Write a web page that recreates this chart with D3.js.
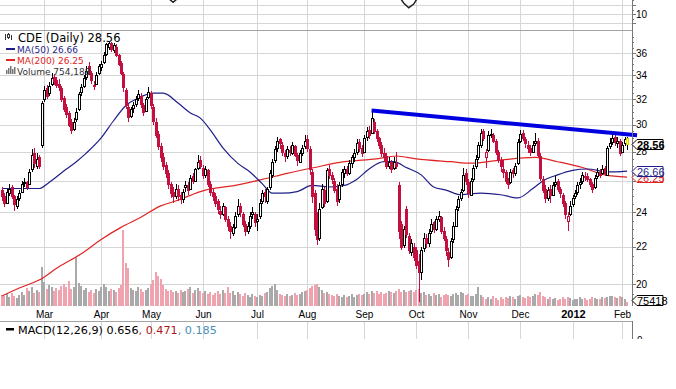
<!DOCTYPE html>
<html>
<head>
<meta charset="utf-8">
<script src="https://cdn.jsdelivr.net/npm/d3@7"></script>
<style>
  body { margin: 0; background: #fff; }
  svg { display: block; }
  text { font-family: "Liberation Sans", Arial, sans-serif; font-size: 10px; }
  .legend text { font-family: "DejaVu Sans", Verdana, sans-serif; }
</style>
</head>
<body>
<svg width="676" height="389"></svg>
<script>
const startDay = '2011-02-03';
const endDay = '2012-02-03';
const holidays = ['2011-02-21', '2011-04-22', '2011-05-30', '2011-07-04', '2011-09-05',
  '2011-11-24', '2011-12-26', '2012-01-02', '2012-01-16'];
const monthLabels = ['Mar', 'Apr', 'May', 'Jun', 'Jul', 'Aug', 'Sep', 'Oct', 'Nov', 'Dec', '2012', 'Feb'];
const priceTicks = [20, 22, 24, 26, 28, 30, 32, 34, 36];
const upperTicks = [10, 30];
const upperGrid = [0, 10, 20];

// open, high, low, close for each trading day
const candles = [
  // Feb 2011
  [25.4,25.6,24.7,25.0],[25.0,25.2,24.3,24.6],[24.6,25.5,24.5,25.3],[25.2,25.8,25.0,25.5],[25.6,25.7,24.8,25.0],
  [25.0,25.1,24.1,24.5],[24.4,25.0,24.2,24.8],[24.9,25.4,24.7,25.2],[25.3,26.0,25.2,25.8],[25.9,26.2,25.6,25.9],
  [25.9,26.0,25.4,25.6],[25.8,26.8,25.7,26.6],[26.8,28.2,26.6,27.8],[27.9,28.3,26.9,27.2],[27.0,27.9,26.8,27.5],
  [27.6,27.8,26.8,27.0],[28.5,31.9,28.3,31.7],
  // Mar
  [32.0,33.1,31.8,32.8],[32.9,33.2,32.0,32.3],[32.5,33.4,32.3,33.1],[33.3,34.2,33.1,33.8],[33.9,34.1,33.2,33.5],
  [33.6,33.9,32.9,33.2],[33.3,33.7,32.7,33.0],[32.9,33.1,31.8,32.0],[32.1,32.3,31.0,31.2],[31.4,31.6,30.5,30.8],
  [30.9,31.1,29.8,30.0],[30.2,30.4,29.3,29.6],[29.7,30.5,29.5,30.2],[30.4,31.3,30.2,31.0],[31.2,32.6,31.1,32.4],
  [32.6,33.3,32.3,33.0],[33.1,34.0,32.9,33.8],[33.9,34.8,33.6,34.4],[34.8,35.2,34.0,34.2],[34.2,34.4,33.3,33.6],
  [33.1,33.5,32.8,33.2],[33.3,34.3,33.2,34.0],[34.2,35.0,34.0,34.8],
  // Apr
  [34.7,35.3,34.4,35.0],[35.2,36.1,35.0,35.8],[35.9,36.9,35.7,36.8],[36.6,37.0,36.3,36.9],[36.9,37.0,36.1,36.4],
  [36.3,36.9,36.0,36.7],[36.6,36.8,35.6,35.8],[35.8,35.9,34.8,35.0],[35.1,35.3,34.0,34.2],[34.1,34.3,32.6,33.0],
  [32.8,32.9,31.2,31.5],[31.4,31.6,30.2,30.6],[30.7,31.4,30.5,31.2],[31.3,31.8,30.9,31.5],[31.6,32.3,31.4,32.0],
  [32.1,32.8,31.9,32.4],[32.3,32.5,31.3,31.6],[31.5,31.7,30.7,31.0],[31.1,32.2,31.0,32.0],[32.2,33.0,32.0,32.6],
  // May
  [32.5,32.7,31.2,31.5],[31.4,31.6,30.0,30.3],[30.2,30.5,29.0,29.2],[29.3,29.5,28.1,28.4],[28.4,28.6,27.3,27.6],
  [27.6,27.9,26.7,27.0],[27.1,27.3,26.2,26.5],[26.5,26.7,25.5,25.8],[25.8,25.9,24.9,25.2],[25.3,25.6,24.6,25.0],
  [25.0,25.8,24.8,25.5],[25.5,25.7,24.7,25.0],[25.1,25.3,24.5,24.8],[24.8,25.5,24.6,25.3],[25.6,26.0,25.3,25.7],
  [25.7,25.9,25.1,25.4],[25.5,26.4,25.4,26.2],[26.3,26.5,25.8,26.0],[26.0,26.9,25.9,26.8],[26.9,27.8,26.7,27.3],
  [27.4,27.7,26.8,27.0],
  // Jun
  [26.9,27.1,26.1,26.4],[26.4,27.0,26.2,26.8],[26.7,26.8,25.6,25.8],[25.8,26.0,25.0,25.3],[25.3,25.5,24.7,25.0],
  [25.0,25.2,24.3,24.6],[24.7,24.8,23.9,24.2],[24.1,24.4,23.6,23.9],[23.9,24.6,23.8,24.4],[24.3,24.4,23.4,23.6],
  [23.6,23.8,22.9,23.2],[23.2,23.4,22.4,22.9],[22.8,23.3,22.6,23.1],[23.1,24.0,23.0,23.8],[23.9,24.8,23.7,24.4],
  [24.4,24.6,23.7,24.0],[23.9,24.0,23.1,23.3],[23.3,23.5,22.6,22.9],[22.9,23.4,22.7,23.2],[23.2,24.0,23.0,23.8],
  [23.9,24.3,23.6,24.0],[23.9,24.0,23.1,23.4],
  // Jul
  [23.5,23.9,22.9,23.6],[23.8,24.8,23.6,24.6],[24.7,25.4,24.5,25.2],[25.3,25.5,24.6,25.0],[24.7,25.6,24.5,25.5],
  [25.6,26.7,25.4,26.5],[26.4,27.5,26.2,27.3],[27.4,28.4,27.2,28.2],[28.3,29.1,28.0,28.8],[28.9,29.0,28.2,28.6],
  [28.5,28.7,27.7,28.0],[27.9,28.1,27.3,27.7],[27.7,28.4,27.5,28.2],[28.1,28.4,27.7,28.0],[27.9,28.7,27.8,28.5],
  [28.4,28.5,27.6,27.8],[27.8,27.9,27.0,27.4],[27.3,28.1,27.2,27.9],[27.9,28.5,27.7,28.3],[28.4,29.2,28.2,28.8],
  // Aug
  [28.9,29.2,28.0,28.3],[28.2,28.4,26.4,26.8],[26.6,26.8,24.6,25.0],[25.2,25.4,22.6,23.0],[23.6,24.0,22.1,22.4],
  [22.5,24.6,22.3,24.2],[24.3,25.8,24.2,25.5],[25.4,25.6,24.3,24.6],[24.7,26.9,24.6,26.7],[26.8,27.1,26.1,26.4],
  [26.4,26.6,25.8,26.1],[26.0,26.2,25.2,25.4],[25.5,25.8,24.4,24.7],[24.8,25.9,24.6,25.7],[25.8,26.8,25.6,26.6],
  [26.5,27.0,26.2,26.8],[26.8,27.0,26.3,26.5],[26.5,27.4,26.4,27.2],[27.2,27.8,26.9,27.6],[27.6,28.2,27.3,27.9],
  [28.0,28.9,27.8,28.6],[28.7,28.9,28.0,28.3],[28.3,28.5,27.6,27.9],
  // Sep
  [28.0,29.2,27.9,29.0],[29.1,29.8,28.8,29.5],[29.6,29.9,28.9,29.2],[29.4,31.1,29.3,30.5],[30.2,30.4,29.3,29.5],
  [29.5,29.7,28.7,29.0],[29.0,29.1,28.2,28.5],[28.5,28.7,27.6,27.9],[27.9,28.3,27.3,27.6],[27.7,27.9,26.8,27.0],
  [27.0,27.6,26.8,27.3],[27.3,27.4,26.5,26.8],[26.9,27.6,26.7,27.3],[27.2,28.0,26.8,27.0],[25.7,25.9,22.4,22.9],
  [23.3,23.5,21.8,22.0],[22.1,23.2,21.9,23.0],[24.2,24.4,22.5,22.7],[22.6,22.8,21.6,21.8],[21.7,22.4,21.5,22.2],
  [22.0,22.2,21.2,21.4],
  // Oct
  [21.8,22.0,20.8,21.0],[21.2,21.6,19.1,20.6],[20.6,22.0,20.2,21.8],[21.9,22.8,21.7,22.5],[22.5,22.7,21.9,22.2],
  [22.2,23.0,22.0,22.8],[22.9,23.6,22.7,23.3],[23.4,23.5,22.8,23.0],[23.0,23.8,22.9,23.6],[23.6,24.1,23.4,23.8],
  [23.7,23.8,22.7,22.9],[22.9,23.1,22.3,22.5],[22.4,22.6,21.5,21.8],[21.7,21.9,20.9,21.3],[21.4,22.5,21.3,22.3],
  [22.4,23.4,22.2,23.2],[23.2,24.4,23.1,24.2],[24.3,25.0,24.1,24.8],[24.9,25.5,24.7,25.3],[25.4,26.9,25.3,26.4],
  [26.5,26.8,25.7,26.0],
  // Nov
  [25.9,26.1,24.9,25.2],[25.1,26.2,25.0,26.0],[26.1,27.1,25.9,26.9],[27.0,27.8,26.8,27.5],[27.6,28.7,27.4,28.5],
  [28.5,29.7,28.3,29.4],[29.5,29.7,28.8,29.0],[27.6,28.2,26.9,28.0],[28.1,29.5,28.0,29.2],[29.3,29.7,29.0,29.3],
  [29.2,29.4,28.6,28.8],[28.8,28.9,27.8,28.0],[28.0,28.1,27.2,27.4],[27.4,27.6,26.6,27.0],[26.8,27.4,26.2,26.6],
  [26.6,26.7,25.8,26.0],[26.0,26.2,25.5,25.8],[25.9,26.8,25.8,26.6],[26.7,26.9,26.2,26.5],[26.5,27.2,26.3,27.0],
  [27.2,28.9,27.1,28.7],
  // Dec
  [28.8,29.6,28.6,29.3],[29.4,29.6,28.8,29.0],[28.9,29.1,28.3,28.6],[28.5,28.8,27.9,28.3],[28.3,28.5,27.7,28.0],
  [28.0,28.8,27.9,28.5],[28.6,29.4,28.4,28.8],[28.8,29.0,27.6,27.8],[27.7,27.9,26.0,26.2],[26.1,26.3,25.2,25.4],
  [25.5,25.7,24.6,24.9],[24.9,25.6,24.7,25.4],[25.5,25.7,24.6,25.1],[25.1,25.9,25.0,25.7],[25.8,26.3,25.6,25.9],
  [26.0,26.1,25.3,25.5],[25.5,25.6,24.9,25.2],[25.1,25.2,24.3,24.6],[24.6,24.7,23.6,23.9],[23.5,24.0,22.9,23.8],
  [23.9,24.7,23.8,24.4],
  // Jan 2012
  [24.5,25.1,24.3,24.9],[25.0,25.4,24.8,25.2],[25.3,25.9,25.1,25.7],[25.8,26.2,25.5,25.9],[26.0,26.6,25.8,26.4],
  [26.3,26.6,26.0,26.3],[26.3,26.5,25.9,26.1],[26.1,26.2,25.6,25.8],[25.8,25.9,25.2,25.5],[25.6,26.4,25.5,26.2],
  [26.3,26.9,26.1,26.6],[26.6,26.8,26.2,26.4],[26.5,27.1,26.4,26.8],[26.9,27.0,26.3,26.5],[26.4,28.4,26.3,28.3],
  [28.4,29.0,28.2,28.6],[28.7,29.3,28.5,29.0],[29.1,29.3,28.4,28.7],[28.6,29.1,28.3,28.8],[28.8,28.9,27.7,27.9],
  // Feb 2012
  [28.0,28.7,27.9,28.5],[28.6,29.1,28.4,28.9],[29.0,29.1,28.1,28.56]
];

// daily volume, millions of shares
const volumes = [
  2.0,1.8,2.2,1.6,2.4,1.9,1.5,2.1,2.6,2.0,3.4,2.8,3.6,2.5,3.0,2.6,7.3,
  4.5,3.2,4.0,3.6,2.8,3.4,3.0,3.8,4.2,3.5,4.6,3.2,3.6,9.2,4.4,3.8,3.0,3.4,2.6,3.0,2.4,3.2,2.8,
  3.5,4.2,3.6,2.8,3.2,3.0,2.6,3.4,4.0,14.3,8.0,7.2,3.4,3.0,2.8,3.6,3.2,2.6,3.0,3.4,
  4.2,4.8,6.4,5.6,5.0,4.0,3.2,2.8,3.0,2.6,2.9,2.4,3.0,2.6,2.8,3.2,3.6,2.5,3.0,3.4,2.8,
  2.4,2.8,2.2,2.6,2.0,2.5,2.8,2.2,3.0,2.5,3.6,2.4,2.8,2.0,2.6,2.2,1.8,2.4,2.0,1.7,2.2,1.9,
  1.6,2.0,1.8,2.4,2.6,3.4,3.8,4.1,3.0,2.2,2.0,1.9,2.3,1.8,2.1,2.4,2.0,2.2,2.6,2.8,
  3.0,3.4,3.8,4.0,4.2,3.6,3.0,2.4,2.6,2.2,2.0,1.8,2.2,1.9,1.7,2.0,1.6,1.9,2.2,1.7,2.0,2.3,2.0,
  2.2,2.6,2.2,2.9,2.4,2.8,2.2,2.6,2.3,2.5,2.8,2.6,2.4,2.9,3.2,2.7,3.0,2.6,2.8,3.0,2.7,
  3.0,3.1,2.4,2.6,2.0,2.2,1.8,2.4,2.0,2.2,1.7,2.0,2.3,2.1,1.8,2.2,2.5,2.0,2.6,2.4,2.1,
  2.3,1.8,1.9,2.2,3.6,2.0,1.7,1.3,1.6,1.4,1.8,1.5,1.2,1.6,1.4,1.7,1.5,1.9,1.6,1.4,1.8,
  2.0,1.6,1.5,1.9,1.7,1.8,2.2,2.0,2.6,1.9,1.6,1.4,1.7,1.3,1.5,1.2,1.4,1.6,1.3,1.7,1.5,
  1.2,1.4,1.3,1.6,1.4,1.5,1.2,1.3,1.6,1.5,1.4,1.3,1.7,1.5,1.6,1.9,1.8,1.7,1.5,1.8,
  1.6,1.4,0.754
];

// moving averages as [trading day, value]
const ma50 = [[0,25.5],[15,25.5],[19,25.9],[26,26.8],[30,27.3],[34,27.9],[40,29.0],[45,30.3],[50,31.5],
  [55,32.1],[61,32.5],[65,32.5],[71,31.7],[76,30.9],[80,30.5],[84,29.6],[89,28.3],[95,27.2],[100,26.6],
  [105,25.8],[109,25.2],[113,25.2],[119,25.3],[125,25.7],[132,25.6],[138,25.7],[143,26.1],[148,26.8],
  [154,27.3],[158,27.3],[163,26.9],[169,26.4],[174,25.6],[179,25.4],[185,25.1],[193,25.2],[201,25.1],
  [208,24.9],[214,25.5],[218,26.0],[224,26.4],[230,26.7],[236,26.8],[244,26.6],[252,26.66]];
const ma200 = [[0,19.4],[7,19.8],[15,20.2],[23,20.9],[32,21.6],[40,22.4],[48,23.1],[56,23.7],[64,24.4],
  [70,24.7],[82,25.4],[94,25.7],[105,26.1],[115,26.5],[126,26.9],[138,27.3],[151,27.5],[159,27.7],
  [167,27.5],[181,27.3],[189,27.2],[200,27.4],[215,27.6],[224,27.3],[234,26.9],[243,26.4],[252,26.25]];

const trendLine = [[149, 31.1], [256, 29.2]];
// pieces of the indicator line from the panel above
const upperLine = [[[66, 30], [69, 23], [72, 30]], [[160, 30], [162, 22], [164, 17], [166, 21], [168, 30]]];

const lastClose = 28.56;
const lastMa50 = 26.66;
const lastMa200 = 26.25;
const lastVolume = 754188;
const macdValues = [0.656, 0.471, 0.185];

const upColor = '#000000';
const downColor = '#c4103f';
const ma50Color = '#1f1f8a';
const ma200Color = '#e02424';
const gridColor = '#d6d6d6';
const axisRight = 632;

const svg = d3.select('svg');

const parseDay = d3.timeParse('%Y-%m-%d');
const formatDay = d3.timeFormat('%Y-%m-%d');
const days = d3.timeDay.range(parseDay(startDay), d3.timeDay.offset(parseDay(endDay), 1))
  .filter(d => d.getDay() !== 0 && d.getDay() !== 6 && !holidays.includes(formatDay(d)));

const x = d3.scaleLinear().domain([0, days.length - 1]).range([1.9, 627.1]);
const y = d3.scaleLog().domain([20, 36]).range([284, 53]);
const yVol = d3.scaleLinear().domain([0, 15]).range([306, 226]);
const yUpper = d3.scaleLinear().domain([0, 30]).range([23, -4]);
const px = i => Math.round(x(i));

const monthStarts = days.map((d, i) => i)
  .filter(i => i > 0 && days[i].getMonth() !== days[i - 1].getMonth());

svg.append('rect').attr('width', 676).attr('height', 389).attr('fill', '#fff');

// clip for price panel
svg.append('clipPath').attr('id', 'price-clip')
  .append('rect').attr('x', 0).attr('y', 31).attr('width', axisRight).attr('height', 275);

// grid
const grid = svg.append('g').attr('stroke', gridColor).attr('shape-rendering', 'crispEdges');
[[0, 30], [31, 306], [322, 339]].forEach(([top, bottom]) => {
  grid.append('g').selectAll('line')
    .data(monthStarts)
    .enter()
    .append('line')
    .attr('x1', i => px(i) + 0.5)
    .attr('x2', i => px(i) + 0.5)
    .attr('y1', top)
    .attr('y2', bottom);
});
grid.append('g').selectAll('line')
  .data(priceTicks)
  .enter()
  .append('line')
  .attr('x1', 0)
  .attr('x2', axisRight)
  .attr('y1', d => Math.round(y(d)) + 0.5)
  .attr('y2', d => Math.round(y(d)) + 0.5);
grid.append('g').selectAll('line')
  .data(upperGrid)
  .enter()
  .append('line')
  .attr('x1', 0)
  .attr('x2', axisRight)
  .attr('y1', d => Math.round(yUpper(d)) + 0.5)
  .attr('y2', d => Math.round(yUpper(d)) + 0.5);

// panel borders
svg.append('g').attr('stroke', '#a4a4a4').attr('shape-rendering', 'crispEdges')
  .selectAll('line')
  .data([30.5, 321.5])
  .enter()
  .append('line')
  .attr('x1', 0)
  .attr('x2', axisRight)
  .attr('y1', d => d)
  .attr('y2', d => d);

// indicator line peeking in from the upper panel
upperLine.forEach(seg => {
  svg.append('path')
    .datum(seg)
    .attr('fill', 'none')
    .attr('stroke', '#222')
    .attr('stroke-width', 1.5)
    .attr('d', d3.line().x(d => x(d[0])).y(d => yUpper(d[1])));
});

const price = svg.append('g').attr('clip-path', 'url(#price-clip)');

// volume
price.append('g').selectAll('rect')
  .data(volumes)
  .enter()
  .append('rect')
  .attr('x', (d, i) => px(i) - 1)
  .attr('width', 2)
  .attr('y', d => yVol(d))
  .attr('height', d => yVol(0) - yVol(d))
  .attr('fill', (d, i) => {
    const prev = i > 0 ? candles[i - 1][3] : candles[i][0];
    return candles[i][3] < prev ? '#eea3ae' : '#a9a9a9';
  })
  .attr('shape-rendering', 'crispEdges');

// moving averages
const maLine = d3.line().x(d => x(d[0])).y(d => y(d[1])).curve(d3.curveMonotoneX);
price.append('path').datum(ma200)
  .attr('fill', 'none').attr('stroke', ma200Color).attr('stroke-width', 1.2).attr('d', maLine);
price.append('path').datum(ma50)
  .attr('fill', 'none').attr('stroke', ma50Color).attr('stroke-width', 1.2).attr('d', maLine);

// candles
const candleColor = (d, i) => {
  const prev = i > 0 ? candles[i - 1][3] : d[0];
  return d[3] < prev ? downColor : upColor;
};
const last = candles.length - 1;
const cg = price.append('g').attr('shape-rendering', 'crispEdges');
cg.selectAll('line')
  .data(candles)
  .enter()
  .append('line')
  .attr('x1', (d, i) => px(i) + 0.5)
  .attr('x2', (d, i) => px(i) + 0.5)
  .attr('y1', d => y(d[1]))
  .attr('y2', d => y(d[2]))
  .attr('stroke', (d, i) => i === last ? '#000' : candleColor(d, i));
cg.selectAll('rect')
  .data(candles)
  .enter()
  .append('rect')
  .attr('x', (d, i) => px(i) - 0.5)
  .attr('width', 2)
  .attr('y', d => Math.round(y(Math.max(d[0], d[3]))) + 0.5)
  .attr('height', d => Math.max(1, Math.round(y(Math.min(d[0], d[3]))) - Math.round(y(Math.max(d[0], d[3])))))
  .attr('stroke', (d, i) => i === last ? '#e0d000' : candleColor(d, i))
  .attr('fill', (d, i) => {
    if (i === last) return '#ffff50';
    return d[3] < d[0] ? candleColor(d, i) : '#fff';
  });

// trend line
svg.append('path')
  .datum(trendLine)
  .attr('fill', 'none')
  .attr('stroke', '#0000e0')
  .attr('stroke-width', 4)
  .attr('d', d3.line().x(d => x(d[0])).y(d => y(d[1])));

// right axis
const axis = svg.append('g').attr('shape-rendering', 'crispEdges');
[[0, 306], [321, 339]].forEach(([top, bottom]) => {
  axis.append('line')
    .attr('x1', axisRight + 0.5).attr('x2', axisRight + 0.5)
    .attr('y1', top).attr('y2', bottom)
    .attr('stroke', '#777');
});
axis.append('g').selectAll('line')
  .data(d3.range(19.5, 37.6, 0.5))
  .enter()
  .append('line')
  .attr('x1', axisRight)
  .attr('x2', d => axisRight + (priceTicks.includes(d) ? 4 : 2))
  .attr('y1', d => Math.round(y(d)) + 0.5)
  .attr('y2', d => Math.round(y(d)) + 0.5)
  .attr('stroke', '#777');
axis.append('g').selectAll('line')
  .data(d3.range(0, 31, 5))
  .enter()
  .append('line')
  .attr('x1', axisRight)
  .attr('x2', d => axisRight + (d % 10 === 0 ? 4 : 2))
  .attr('y1', d => Math.round(yUpper(d)) + 0.5)
  .attr('y2', d => Math.round(yUpper(d)) + 0.5)
  .attr('stroke', '#777');

// value flags on the right edge
const flags = [
  {value: y(lastMa200), text: d3.format('.2f')(lastMa200), color: ma200Color, bold: false},
  {value: y(lastMa50), text: d3.format('.2f')(lastMa50), color: ma50Color, bold: false},
  {value: y(lastClose), text: d3.format('.2f')(lastClose), color: '#000', bold: true},
  {value: yVol(lastVolume / 1e6) - 2, text: String(lastVolume).slice(0, 5), color: '#000', bold: false}
];

// tick labels that are not hidden behind a flag
svg.append('g').selectAll('text')
  .data(priceTicks.filter(t => flags.every(f => Math.abs(f.value - y(t)) > 7)))
  .enter()
  .append('text')
  .attr('x', axisRight + 4)
  .attr('y', d => y(d) + 3.5)
  .text(d => d);
svg.append('g').selectAll('text')
  .data(upperTicks)
  .enter()
  .append('text')
  .attr('x', axisRight + 4)
  .attr('y', d => yUpper(d) + 4)
  .text(d => d);

// month labels
svg.append('g').selectAll('text')
  .data(monthStarts)
  .enter()
  .append('text')
  .attr('x', i => px(i) + 0.5)
  .attr('y', 318)
  .attr('text-anchor', 'middle')
  .style('font-weight', (i, k) => monthLabels[k] === '2012' ? 'bold' : 'normal')
  .style('font-size', (i, k) => monthLabels[k] === '2012' ? '11px' : '10px')
  .text((i, k) => monthLabels[k]);

const flag = svg.append('g').selectAll('g')
  .data(flags)
  .enter()
  .append('g')
  .attr('transform', d => `translate(${axisRight}, ${Math.round(d.value) + 0.5})`);
flag.append('path')
  .attr('d', 'M0,0 L5,-5 L31,-5 L31,5 L5,5 Z')
  .attr('fill', '#fff')
  .attr('stroke', d => d.color);
flag.append('text')
  .attr('x', 5)
  .attr('y', 4)
  .attr('fill', d => d.color)
  .style('font-size', '11px')
  .style('font-weight', d => d.bold ? 'bold' : 'normal')
  .text(d => d.text);

// legend
const legend = svg.append('g').attr('class', 'legend');
const candleIcon = legend.append('g').attr('stroke', '#333').attr('shape-rendering', 'crispEdges');
[[5, 34, 40], [8, 33, 39], [11, 35, 40]].forEach(([lx, t, b]) => {
  candleIcon.append('line').attr('x1', lx + 0.5).attr('x2', lx + 0.5).attr('y1', t).attr('y2', b);
});
candleIcon.append('rect').attr('x', 7.5).attr('y', 34.5).attr('width', 2).attr('height', 3).attr('fill', '#fff');
legend.append('text').attr('x', 18).attr('y', 41.5).style('font-size', '11.5px')
  .text(`CDE (Daily) ${d3.format('.2f')(lastClose)}`);
legend.append('rect').attr('x', 6).attr('y', 48).attr('width', 9).attr('height', 2).attr('fill', ma50Color);
legend.append('text').attr('x', 17).attr('y', 52.5).style('font-size', '9px').attr('fill', ma50Color)
  .text(`MA(50) ${d3.format('.2f')(lastMa50)}`);
legend.append('rect').attr('x', 6).attr('y', 59).attr('width', 9).attr('height', 2).attr('fill', ma200Color);
legend.append('text').attr('x', 17).attr('y', 63.5).style('font-size', '9px').attr('fill', ma200Color)
  .text(`MA(200) ${d3.format('.2f')(lastMa200)}`);
[[6, 4], [8, 6], [10, 8], [12, 5], [14, 7]].forEach(([lx, h]) => {
  legend.append('rect').attr('x', lx).attr('y', 74 - h).attr('width', 1.5).attr('height', h).attr('fill', '#777');
});
legend.append('text').attr('x', 17).attr('y', 74.5).style('font-size', '9px').attr('fill', '#333')
  .text(`Volume ${d3.format(',')(lastVolume)}`);

// MACD panel header
legend.append('rect').attr('x', 6).attr('y', 328).attr('width', 8).attr('height', 2.5).attr('fill', '#000');
const macdText = legend.append('text').attr('x', 18).attr('y', 333.5).style('font-size', '11.2px');
macdText.append('tspan').text(`MACD(12,26,9) ${d3.format('.3f')(macdValues[0])}`);
macdText.append('tspan').attr('fill', '#b01818').text(`, ${d3.format('.3f')(macdValues[1])}`);
macdText.append('tspan').attr('fill', '#4a8fb8').text(`, ${d3.format('.3f')(macdValues[2])}`);

svg.append('text').attr('x', axisRight + 5).attr('y', 344).text('0');
svg.append('rect').attr('x', 0).attr('y', 339).attr('width', 676).attr('height', 50).attr('fill', '#fff');
</script>
</body>
</html>
